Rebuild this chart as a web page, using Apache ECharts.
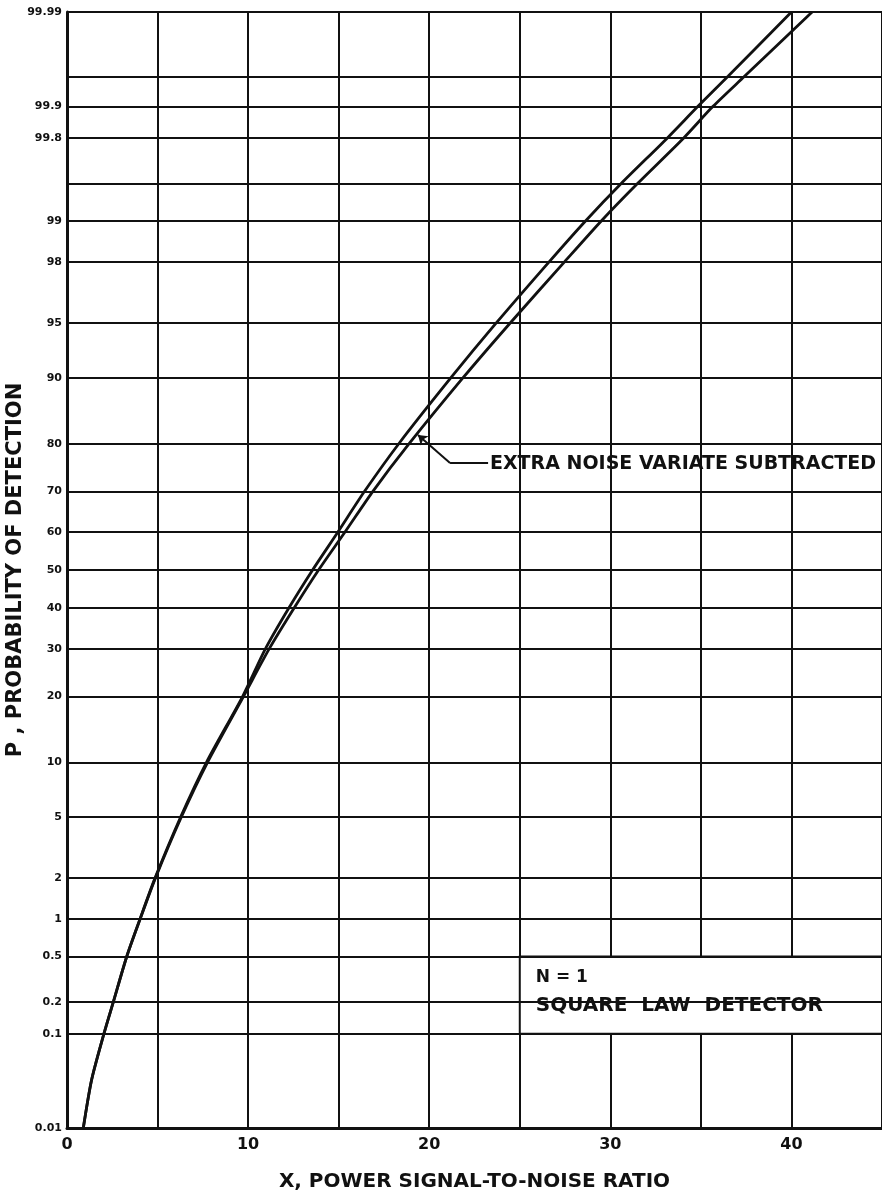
<!DOCTYPE html>
<html><head><meta charset="utf-8">
<script src="https://cdn.jsdelivr.net/npm/echarts@6/dist/echarts.min.js"></script>
<style>html,body{margin:0;padding:0;background:#fff}#c{width:882px;height:1199px}</style>
</head><body><div id="c"></div>
<script>
// ---- data ----
const yTickP      = [0.01,0.1,0.2,0.5,1,2,5,10,20,30,40,50,60,70,80,90,95,98,99,99.8,99.9,99.99];
const yTickLabels = ['0.01','0.1','0.2','0.5','1','2','5','10','20','30','40','50','60','70','80','90','95','98','99','99.8','99.9','99.99'];
const yExtraGridP = [99.5, 99.95];
// upper-left curve
const curveAX = [0.90,1.36,2.04,2.56,3.30,4.03,4.86,6.28,7.70,9.70,10.96,12.25,13.56,14.96,16.43,18.32,21.20,23.69,26.62,28.63,30.60,33.14,34.84,36.50,40.0];
const curveAP = [0.01,0.034,0.1,0.2,0.5,1,2,5,10,20,30,40,50,60,70,80,90,95,98,99,99.5,99.8,99.9,99.95,99.99];
// lower-right curve (extra noise variate subtracted)
const curveBX = [0.90,1.36,2.04,2.56,3.30,4.04,4.88,6.32,7.76,9.75,11.17,12.54,13.89,15.35,16.89,18.89,21.87,24.46,27.47,29.50,31.50,34.04,35.67,37.41,41.14];
const curveBP = [0.01,0.034,0.1,0.2,0.5,1,2,5,10,20,30,40,50,60,70,80,90,95,98,99,99.5,99.8,99.9,99.95,99.99];

// inverse normal CDF (probability-paper transform)
function toZ(pct){
  const p = pct/100;
  const a=[-3.969683028665376e+01,2.209460984245205e+02,-2.759285104469687e+02,1.383577518672690e+02,-3.066479806614716e+01,2.506628277459239e+00];
  const b=[-5.447609879822406e+01,1.615858368580409e+02,-1.556989798598866e+02,6.680131188771972e+01,-1.328068155288572e+01];
  const c=[-7.784894002430293e-03,-3.223964580411365e-01,-2.400758277161838e+00,-2.549732539343734e+00,4.374664141464968e+00,2.938163982698783e+00];
  const d=[7.784695709041462e-03,3.224671290700398e-01,2.445134137142996e+00,3.754408661907416e+00];
  const pl=0.02425, ph=1-pl;
  let q,r;
  if(p<pl){q=Math.sqrt(-2*Math.log(p));return (((((c[0]*q+c[1])*q+c[2])*q+c[3])*q+c[4])*q+c[5])/((((d[0]*q+d[1])*q+d[2])*q+d[3])*q+1);}
  if(p<=ph){q=p-0.5;r=q*q;return (((((a[0]*r+a[1])*r+a[2])*r+a[3])*r+a[4])*r+a[5])*q/(((((b[0]*r+b[1])*r+b[2])*r+b[3])*r+b[4])*r+1);}
  q=Math.sqrt(-2*Math.log(1-p));return -(((((c[0]*q+c[1])*q+c[2])*q+c[3])*q+c[4])*q+c[5])/((((d[0]*q+d[1])*q+d[2])*q+d[3])*q+1);
}

const FONT = 'DejaVu Sans';
const INK = '#111';
const gridLines = yTickP.map((p,i)=>({yAxis:toZ(p), name:yTickLabels[i]}))
  .concat(yExtraGridP.map(p=>({yAxis:toZ(p), name:'', label:{show:false}})));
const EPS = 1e-4;

const chart = echarts.init(document.getElementById('c'), null, {renderer:'canvas'});
chart.setOption({
  animation:false,
  backgroundColor:'#fff',
  grid:{left:67, right:0, top:12, bottom:71, containLabel:false, outerBoundsMode:'none'},
  xAxis:{
    type:'value', min:0, max:45, interval:5,
    name:'X, POWER SIGNAL-TO-NOISE RATIO', nameLocation:'middle', nameGap:44,
    nameTextStyle:{fontFamily:FONT, fontWeight:'bold', fontSize:20, color:INK},
    axisLine:{show:true, onZero:false, lineStyle:{color:INK, width:3}},
    axisTick:{show:false},
    axisLabel:{margin:9, fontFamily:FONT, fontWeight:'bold', fontSize:16, color:INK,
      formatter:v=> (v%10===0 && v<45) ? String(v) : ''},
    splitLine:{show:true, lineStyle:{color:INK, width:2}}
  },
  yAxis:{
    type:'value', min:toZ(0.01)-EPS, max:toZ(99.99)+EPS,
    name:'P , PROBABILITY OF DETECTION', nameLocation:'middle', nameGap:41, nameRotate:90,
    nameTextStyle:{fontFamily:FONT, fontWeight:'bold', fontSize:21, color:INK},
    axisLine:{show:true, onZero:false, lineStyle:{color:INK, width:3}},
    axisTick:{show:false}, axisLabel:{show:false}, splitLine:{show:false}
  },
  series:[
    {
      type:'line', data:[], z:1, silent:true,
      markLine:{
        silent:true, symbol:['none','none'], animation:false, precision:8,
        lineStyle:{color:INK, width:2, type:'solid'},
        label:{show:true, position:'start', distance:5, formatter:'{b}',
          fontFamily:FONT, fontWeight:'bold', fontSize:11, color:INK},
        data:gridLines
      }
    },
    {
      type:'line', data:[], z:5, silent:true,
      markArea:{
        silent:true,
        itemStyle:{color:'#fff', borderColor:INK, borderWidth:2},
        label:{show:true, position:[17,8], formatter:'{a|N = 1}\n{b|SQUARE  LAW  DETECTOR}',
          align:'left', color:INK,
          rich:{
            a:{fontFamily:FONT, fontWeight:'bold', fontSize:17, lineHeight:28, color:INK},
            b:{fontFamily:FONT, fontWeight:'bold', fontSize:20, lineHeight:28, color:INK}
          }},
        data:[[{coord:[25, toZ(0.5)]},{coord:[45, toZ(0.1)]}]]
      }
    },
    {
      type:'line', name:'A', z:8, smooth:0.25, showSymbol:false, clip:true,
      lineStyle:{color:INK, width:2.8},
      data:curveAX.map((x,i)=>[x, toZ(curveAP[i])])
    },
    {
      type:'line', name:'B', z:8, smooth:0.25, showSymbol:false, clip:true,
      lineStyle:{color:INK, width:2.8},
      data:curveBX.map((x,i)=>[x, toZ(curveBP[i])]),
      markLine:{
        silent:true, animation:false, precision:8,
        lineStyle:{color:INK, width:2, type:'solid'},
        label:{show:false},
        data:[
          [{coord:[23.25, toZ(76.2)], symbol:'none'},{coord:[21.15, toZ(76.2)], symbol:'none'}],
          [{coord:[21.15, toZ(76.2)], symbol:'none'},{coord:[19.38, toZ(81.6)], symbol:'arrow', symbolSize:9}]
        ]
      },
      markPoint:{
        silent:true, symbol:'circle', symbolSize:0,
        label:{show:true, position:'right', distance:1, formatter:'EXTRA NOISE VARIATE SUBTRACTED',
          fontFamily:FONT, fontWeight:'bold', fontSize:19, color:INK},
        data:[{coord:[23.3, toZ(76.0)]}]
      }
    }
  ]
});
</script></body></html>
